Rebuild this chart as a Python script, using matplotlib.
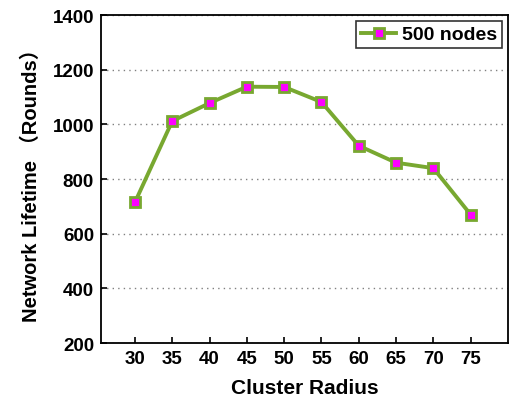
import matplotlib.pyplot as plt

radius = [30, 35, 40, 45, 50, 55, 60, 65, 70, 75]
lifetime = [715, 1012, 1078, 1138, 1137, 1082, 922, 860, 840, 670]
y_ticks = [200, 400, 600, 800, 1000, 1200, 1400]

plt.rcParams['font.family'] = ['Liberation Sans', 'Noto Sans CJK SC', 'DejaVu Sans']
plt.rcParams['font.weight'] = 'bold'

fig = plt.figure(figsize=(5.1, 4.02), dpi=100)
ax = fig.add_axes([0.198, 0.144, 0.798, 0.816])

green = '#78a830'
ax.plot(radius, lifetime, '-s', color=green, lw=2.8, ms=6.5,
        mfc='#ff00ff', mec=green, mew=2.0, label='500 nodes')

ax.set_xlim(25.45, 80)
ax.set_ylim(200, 1400)
ax.set_xticks(radius)
ax.set_yticks(y_ticks)
ax.yaxis.grid(True, linestyle=(0, (1, 3)), color='#808080', lw=1)
ax.tick_params(direction='in', labelsize=13.5, width=1.2, length=4, pad=5)
for lab in ax.get_xticklabels() + ax.get_yticklabels():
    lab.set_fontweight('bold')
for s in ax.spines.values():
    s.set_linewidth(1.3)

ax.set_xlabel('Cluster Radius', fontsize=15, fontweight='bold', labelpad=8)
ax.set_ylabel('Network Lifetime （Rounds）', fontsize=14.5, fontweight='bold', labelpad=8)

leg = ax.legend(loc='upper right', fontsize=14, frameon=True, fancybox=False,
                borderpad=0.25, handlelength=1.8, handletextpad=0.3,
                borderaxespad=0.3)
leg.get_frame().set_edgecolor('black')
leg.get_frame().set_linewidth(1.2)
for t in leg.get_texts():
    t.set_fontweight('bold')

fig.savefig('out.png', dpi=100)
